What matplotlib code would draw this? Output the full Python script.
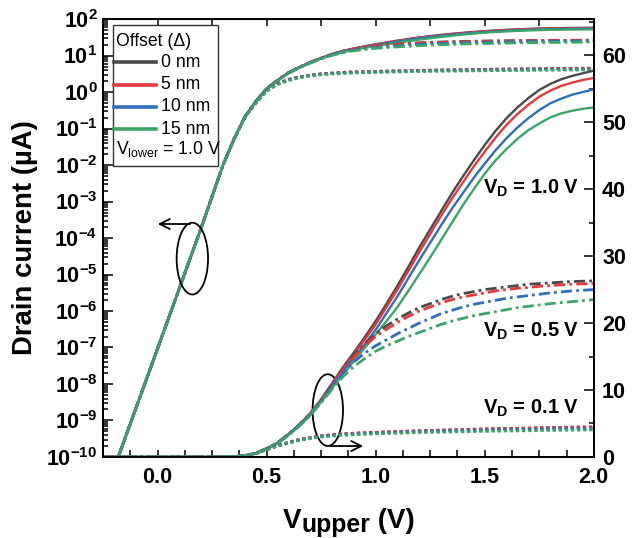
import matplotlib
matplotlib.use("Agg")
import matplotlib.pyplot as plt
from matplotlib.patches import Ellipse, Rectangle
from matplotlib.lines import Line2D
from matplotlib.ticker import LogLocator, MultipleLocator, NullFormatter

plt.rcParams['font.family'] = ['Liberation Sans', 'DejaVu Sans']
plt.rcParams['font.weight'] = 'bold'
plt.rcParams['mathtext.default'] = 'regular'

# --- data (drain current in uA) ---
# subthreshold part, identical for every offset / drain bias
v_sub = [-0.25, -0.2, -0.1, 0.0, 0.1, 0.2, 0.3, 0.35]
i_sub = [8e-12, 4.7e-11, 2.1e-9, 9.3e-8, 4.2e-6, 1.9e-4, 1.0e-2, 5.0e-2]

v_on = [0.4, 0.45, 0.5, 0.55, 0.6, 0.65, 0.7, 0.75, 0.8, 0.85, 0.9, 0.95,
        1.0, 1.05, 1.1, 1.15, 1.2, 1.25, 1.3, 1.35, 1.4, 1.45, 1.5, 1.55,
        1.6, 1.65, 1.7, 1.75, 1.8, 1.85, 1.9, 1.95, 2.0]

offsets = ["0 nm", "5 nm", "10 nm", "15 nm"]
colors = ["#4a4a4a", "#e8383d", "#2e6fbd", "#3ba569"]

# V_D = 1.0 V
id_vd10 = [
    [0.21, 0.55, 1.25, 2.1, 3.4, 4.8, 6.5, 8.6, 11.0, 13.4, 15.6, 17.9,
     20.3, 22.9, 25.6, 28.4, 31.3, 34.0, 36.7, 39.4, 41.9, 44.3, 46.6, 48.7,
     50.6, 52.2, 53.6, 54.8, 55.7, 56.4, 56.9, 57.3, 57.7],
    [0.21, 0.55, 1.25, 2.1, 3.4, 4.8, 6.5, 8.5, 10.9, 13.2, 15.3, 17.5,
     19.8, 22.4, 25.0, 27.8, 30.6, 33.3, 36.0, 38.6, 41.0, 43.4, 45.6, 47.7,
     49.6, 51.2, 52.6, 53.8, 54.7, 55.4, 55.9, 56.3, 56.6],
    [0.21, 0.55, 1.25, 2.1, 3.35, 4.75, 6.4, 8.4, 10.7, 12.8, 14.8, 16.8,
     19.0, 21.5, 24.0, 26.7, 29.4, 32.0, 34.6, 37.1, 39.4, 41.7, 43.8, 45.8,
     47.6, 49.2, 50.6, 51.8, 52.8, 53.5, 54.1, 54.5, 54.9],
    [0.2, 0.53, 1.2, 2.0, 3.25, 4.6, 6.2, 8.2, 10.3, 12.3, 14.3, 16.3,
     18.3, 20.3, 22.4, 24.8, 27.3, 29.8, 32.4, 35.0, 37.6, 40.0, 42.3, 44.3,
     46.0, 47.5, 48.8, 49.8, 50.7, 51.3, 51.7, 52.0, 52.2],
]
# V_D = 0.5 V
id_vd05 = [
    [0.21, 0.55, 1.25, 2.1, 3.4, 4.8, 6.5, 8.5, 10.8, 13.1, 15.2, 16.9,
     18.4, 19.6, 20.6, 21.5, 22.3, 22.9, 23.5, 24.0, 24.4, 24.7, 25.0, 25.2,
     25.4, 25.6, 25.8, 25.9, 26.0, 26.1, 26.2, 26.25, 26.3],
    [0.21, 0.55, 1.25, 2.1, 3.4, 4.8, 6.5, 8.4, 10.7, 12.9, 14.9, 16.6,
     18.0, 19.1, 20.1, 21.0, 21.8, 22.4, 23.0, 23.5, 23.9, 24.2, 24.5, 24.8,
     25.0, 25.2, 25.3, 25.5, 25.6, 25.7, 25.8, 25.85, 25.9],
    [0.21, 0.55, 1.25, 2.1, 3.35, 4.75, 6.4, 8.3, 10.5, 12.5, 14.2, 15.5,
     16.6, 17.5, 18.4, 19.2, 20.0, 20.7, 21.4, 21.9, 22.4, 22.8, 23.1, 23.4,
     23.7, 23.9, 24.1, 24.3, 24.5, 24.65, 24.8, 24.9, 25.0],
    [0.2, 0.53, 1.2, 2.0, 3.25, 4.6, 6.2, 8.1, 10.1, 12.0, 13.5, 14.7,
     15.8, 16.6, 17.3, 18.0, 18.6, 19.2, 19.8, 20.3, 20.7, 21.1, 21.4, 21.7,
     22.0, 22.3, 22.5, 22.7, 22.9, 23.05, 23.2, 23.35, 23.5],
]
# V_D = 0.1 V
id_vd01 = [
    [0.2, 0.5, 1.1, 1.7, 2.2, 2.6, 2.9, 3.15, 3.3, 3.45, 3.55, 3.62,
     3.68, 3.74, 3.8, 3.85, 3.9, 3.95, 4.0, 4.05, 4.1, 4.15, 4.2, 4.23,
     4.26, 4.29, 4.32, 4.36, 4.4, 4.43, 4.46, 4.48, 4.5],
    [0.2, 0.5, 1.1, 1.7, 2.2, 2.6, 2.9, 3.15, 3.3, 3.45, 3.55, 3.62,
     3.68, 3.74, 3.8, 3.85, 3.9, 3.95, 4.0, 4.04, 4.08, 4.12, 4.16, 4.2,
     4.23, 4.26, 4.29, 4.32, 4.35, 4.38, 4.41, 4.43, 4.45],
    [0.2, 0.5, 1.1, 1.65, 2.15, 2.55, 2.85, 3.08, 3.22, 3.35, 3.44, 3.51,
     3.57, 3.63, 3.7, 3.75, 3.8, 3.85, 3.9, 3.93, 3.96, 4.0, 4.03, 4.06,
     4.08, 4.1, 4.13, 4.15, 4.17, 4.19, 4.21, 4.23, 4.25],
    [0.2, 0.48, 1.05, 1.6, 2.05, 2.45, 2.75, 2.97, 3.12, 3.23, 3.32, 3.39,
     3.45, 3.5, 3.55, 3.6, 3.65, 3.68, 3.71, 3.74, 3.77, 3.8, 3.83, 3.86,
     3.88, 3.9, 3.92, 3.95, 3.97, 3.99, 4.01, 4.03, 4.05],
]

vd_sets = [
    (id_vd10, "-", 1.7),
    (id_vd05, (0, (4, 1.5, 1, 1.5)), 2.0),
    (id_vd01, (0, (1.2, 1.0)), 2.0),
]

v_all = v_sub + v_on

fig = plt.figure(figsize=(6.44, 5.38), dpi=100)
ax = fig.add_axes([0.160, 0.1506, 0.762, 0.814])
ax2 = ax.twinx()

for curves, ls, lw in vd_sets:
    for k, col in enumerate(colors):
        i_all = i_sub + curves[k]
        ax.plot(v_all, i_all, color=col, ls=ls, lw=lw)
        ax2.plot(v_all, i_all, color=col, ls=ls, lw=lw)

ax.set_yscale("log")
ax.set_xlim(-0.25, 2.0)
ax.set_ylim(1e-10, 1e2)
ax2.set_ylim(0, 65.4)

ax.xaxis.set_major_locator(MultipleLocator(0.5))
ax.xaxis.set_minor_locator(MultipleLocator(0.125))
ax.yaxis.set_major_locator(LogLocator(base=10, numticks=20))
ax.yaxis.set_minor_locator(LogLocator(base=10, subs=range(2, 10), numticks=200))
ax.yaxis.set_minor_formatter(NullFormatter())
ax2.yaxis.set_major_locator(MultipleLocator(10))
ax2.yaxis.set_minor_locator(MultipleLocator(5))

ax.tick_params(axis="both", which="both", direction="in", labelsize=15.5, width=1.1)
ax.tick_params(axis="x", which="both", length=5, pad=7)
ax.tick_params(axis="y", which="major", length=7, pad=4)
ax.tick_params(axis="y", which="minor", length=3.5)
ax2.tick_params(axis="y", which="both", direction="in", labelsize=15.5, width=1.1, pad=6)
ax2.tick_params(axis="y", which="major", length=7)
ax2.tick_params(axis="y", which="minor", length=3.5)

top = ax.secondary_xaxis("top")
top.xaxis.set_major_locator(MultipleLocator(0.25))
top.tick_params(direction="in", length=5, width=1.1, labeltop=False)

for a in (ax, ax2):
    for s in a.spines.values():
        s.set_linewidth(1.3)

ax.set_ylabel("Drain current (\u00b5A)", fontsize=19.8, fontweight="bold", labelpad=6)

# x label built from pieces so the subscript stays large
renderer = fig.canvas.get_renderer()
fw = fig.bbox.width
pieces = [("V", 20, 0.0), ("upper", 17.8, -0.0075), (" (V)", 20, 0.0)]
base_y = 0.0186
texts = []
x_cur = 0.0
for s, fs, dy in pieces:
    t = fig.text(x_cur, base_y + dy, s, fontsize=fs, fontweight="bold", va="baseline")
    x_cur += t.get_window_extent(renderer).width / fw
    texts.append(t)
x_start = 0.5412 - x_cur / 2
for t in texts:
    t.set_x(t.get_position()[0] + x_start)

# V_D labels
for y, txt in [(0.614, "V$_D$ = 1.0 V"), (0.286, "V$_D$ = 0.5 V"), (0.111, "V$_D$ = 0.1 V")]:
    ax2.text(0.971, y, txt, transform=ax2.transAxes, ha="right", va="center", fontsize=14.5)

# ellipses with arrows pointing to the axis used
ax2.add_patch(Ellipse((0.182, 0.453), 0.064, 0.164, transform=ax2.transAxes,
                      fill=False, ec="black", lw=1.3))
ax2.annotate("", xy=(0.106, 0.532), xytext=(0.183, 0.532), xycoords="axes fraction",
             arrowprops=dict(arrowstyle="->", lw=1.3, color="black", mutation_scale=18))
ax2.add_patch(Ellipse((0.458, 0.107), 0.062, 0.164, transform=ax2.transAxes,
                      fill=False, ec="black", lw=1.3))
ax2.annotate("", xy=(0.536, 0.025), xytext=(0.458, 0.025), xycoords="axes fraction",
             arrowprops=dict(arrowstyle="->", lw=1.3, color="black", mutation_scale=18))

# legend box
ax2.add_patch(Rectangle((0.020, 0.665), 0.215, 0.321, transform=ax2.transAxes,
                        fill=True, fc="white", ec="#333333", lw=1.0, zorder=5))
ax2.text(0.026, 0.948, "Offset (\u0394)", transform=ax2.transAxes, fontsize=12.7,
         fontweight="normal", va="center", zorder=6)
for k, (lab, col) in enumerate(zip(offsets, colors)):
    yy = 0.901 - k * 0.0507
    ax2.add_line(Line2D([0.023, 0.108], [yy, yy], transform=ax2.transAxes, color=col,
                        lw=2.6, zorder=6))
    ax2.text(0.1175, yy, lab, transform=ax2.transAxes, fontsize=12.7,
             fontweight="normal", va="center", zorder=6)
ax2.text(0.026, 0.703, "V$_{lower}$ = 1.0 V", transform=ax2.transAxes, fontsize=12.7,
         fontweight="normal", va="center", zorder=6)

fig.savefig("out.png", dpi=100)
